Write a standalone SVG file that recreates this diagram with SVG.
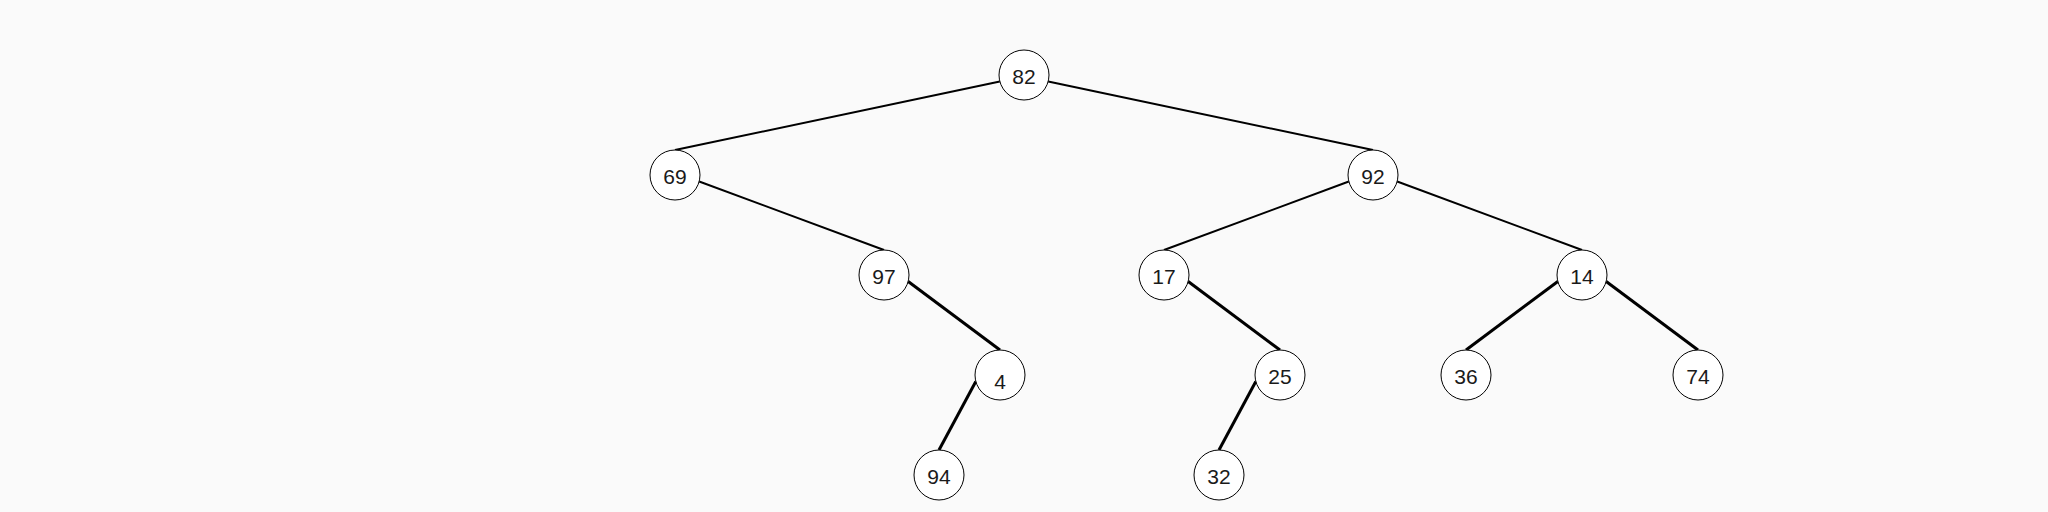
<svg xmlns="http://www.w3.org/2000/svg" width="2048" height="512" viewBox="0 0 2048 512">
<style>
.bg{fill:#fafafa}
.n circle{fill:#ffffff;stroke:#000;stroke-width:1}
.n text{font-family:"Liberation Sans",Arial,sans-serif;font-size:21px;fill:#1a1a1a;text-anchor:middle}
.e line{stroke:#000;stroke-linecap:butt}
.t{stroke-width:2}
.k{stroke-width:3}
</style>
<rect class="bg" x="0" y="0" width="2048" height="512"/>
<g id="edges" class="e">
<line class="t" x1="999.8" y1="81.5" x2="675" y2="150"/>
<line class="t" x1="1048.2" y1="81.5" x2="1373" y2="150"/>
<line class="t" x1="699.2" y1="181.5" x2="884" y2="250"/>
<line class="t" x1="1348.8" y1="181.5" x2="1164" y2="250"/>
<line class="t" x1="1397.2" y1="181.5" x2="1582" y2="250"/>
<line class="k" x1="908.2" y1="281.5" x2="1000" y2="350"/>
<line class="k" x1="1188.2" y1="281.5" x2="1280" y2="350"/>
<line class="k" x1="1557.8" y1="281.5" x2="1466" y2="350"/>
<line class="k" x1="1606.2" y1="281.5" x2="1698" y2="350"/>
<line class="k" x1="975.8" y1="381.5" x2="939" y2="450"/>
<line class="k" x1="1255.8" y1="381.5" x2="1219" y2="450"/>
</g>
<g id="n82" class="n"><circle cx="1024" cy="75" r="25"/><text x="1024" y="83.5">82</text></g>
<g id="n69" class="n"><circle cx="675" cy="175" r="25"/><text x="675" y="183.5">69</text></g>
<g id="n92" class="n"><circle cx="1373" cy="175" r="25"/><text x="1373" y="183.5">92</text></g>
<g id="n97" class="n"><circle cx="884" cy="275" r="25"/><text x="884" y="283.5">97</text></g>
<g id="n17" class="n"><circle cx="1164" cy="275" r="25"/><text x="1164" y="283.5">17</text></g>
<g id="n14" class="n"><circle cx="1582" cy="275" r="25"/><text x="1582" y="283.5">14</text></g>
<g id="n4" class="n"><circle cx="1000" cy="375" r="25"/><text x="1000" y="389">4</text></g>
<g id="n25" class="n"><circle cx="1280" cy="375" r="25"/><text x="1280" y="383.5">25</text></g>
<g id="n36" class="n"><circle cx="1466" cy="375" r="25"/><text x="1466" y="383.5">36</text></g>
<g id="n74" class="n"><circle cx="1698" cy="375" r="25"/><text x="1698" y="383.5">74</text></g>
<g id="n94" class="n"><circle cx="939" cy="475" r="25"/><text x="939" y="483.5">94</text></g>
<g id="n32" class="n"><circle cx="1219" cy="475" r="25"/><text x="1219" y="483.5">32</text></g>
</svg>
